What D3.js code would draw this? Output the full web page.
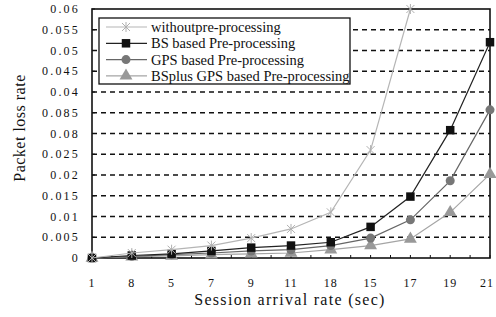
<!DOCTYPE html>
<html>
<head>
<meta charset="utf-8">
<script src="https://cdn.jsdelivr.net/npm/d3@7"></script>
<style>
  body { margin: 0; background: #fff; }
  svg { display: block; }
  text { font-family: "Liberation Serif", "DejaVu Serif", serif; fill: #111; }
</style>
</head>
<body>
<script>
// x tick labels as printed in the figure
const categories = ["1", "8", "5", "7", "9", "11", "18", "15", "17", "19", "21"];
const yTicks = [0, 0.005, 0.01, 0.015, 0.02, 0.025, 0.03, 0.035, 0.04, 0.045, 0.05, 0.055, 0.06];
const yTickLabels = ["0", "0.005", "0.01", "0.015", "0.02", "0.025", "0.08", "0.085", "0.04", "0.045", "0.05", "0.055", "0.06"];

const withoutPre = [0, 0.0012, 0.002, 0.003, 0.0048, 0.007, 0.011, 0.026, 0.06];
const bsBased = [0, 0.0006, 0.001, 0.0017, 0.0025, 0.003, 0.0038, 0.0075, 0.0148, 0.0308, 0.052];
const gpsBased = [0, 0.0004, 0.0008, 0.0012, 0.0017, 0.002, 0.003, 0.0048, 0.0092, 0.0186, 0.0357];
const bsPlusGps = [0, 0.0003, 0.0005, 0.0008, 0.001, 0.0012, 0.002, 0.003, 0.0046, 0.011, 0.0202];

const seriesNames = ["withoutpre-processing", "BS based Pre-processing", "GPS based Pre-processing", "BSplus GPS based Pre-processing"];

const W = 496, H = 317;
const margin = { left: 92, right: 6, top: 9, bottom: 59 };

const svg = d3.select("body").append("svg")
  .attr("width", W)
  .attr("height", H);

const x = d3.scalePoint()
  .domain(categories)
  .range([margin.left, W - margin.right]);

const y = d3.scaleLinear()
  .domain([0, 0.06])
  .range([H - margin.bottom, margin.top]);

// dashed grid
svg.append("g")
  .selectAll("line")
  .data(yTicks.slice(1, -1))
  .join("line")
  .attr("x1", margin.left)
  .attr("x2", W - margin.right)
  .attr("y1", d => y(d))
  .attr("y2", d => y(d))
  .attr("stroke", "#111")
  .attr("stroke-width", 1.3)
  .attr("stroke-dasharray", "5,4");

// plot frame
svg.append("rect")
  .attr("x", margin.left)
  .attr("y", margin.top)
  .attr("width", W - margin.right - margin.left)
  .attr("height", H - margin.bottom - margin.top)
  .attr("fill", "none")
  .attr("stroke", "#111")
  .attr("stroke-width", 1.6);

// y axis labels
svg.append("g")
  .selectAll("text")
  .data(yTicks)
  .join("text")
  .attr("x", 80)
  .attr("y", d => y(d))
  .attr("dy", "0.35em")
  .attr("text-anchor", "end")
  .attr("font-size", 12)
  .attr("letter-spacing", 2.2)
  .text((d, i) => yTickLabels[i]);

svg.append("g")
  .selectAll("line")
  .data(yTicks)
  .join("line")
  .attr("x1", margin.left)
  .attr("x2", margin.left + 3)
  .attr("y1", d => y(d))
  .attr("y2", d => y(d))
  .attr("stroke", "#111");

// x axis labels and ticks (ticks at every half step)
svg.append("g")
  .selectAll("text")
  .data(categories)
  .join("text")
  .attr("x", d => Math.min(x(d), W - 9))
  .attr("y", 287)
  .attr("text-anchor", "middle")
  .attr("font-size", 12)
  .attr("letter-spacing", 1)
  .text(d => d);

const halfTicks = d3.range(categories.length * 2 - 1).map(k => x(categories[0]) + k * x.step() / 2);
svg.append("g")
  .selectAll("line")
  .data(halfTicks)
  .join("line")
  .attr("x1", d => d)
  .attr("x2", d => d)
  .attr("y1", y(0))
  .attr("y2", y(0) - 3)
  .attr("stroke", "#111");

// axis titles
svg.append("text")
  .attr("transform", "translate(25,128) rotate(-90)")
  .attr("text-anchor", "middle")
  .attr("font-size", 16)
  .attr("letter-spacing", 0.5)
  .text("Packet loss rate");

svg.append("text")
  .attr("x", 290)
  .attr("y", 305)
  .attr("text-anchor", "middle")
  .attr("font-size", 16)
  .attr("letter-spacing", 1.3)
  .text("Session arrival rate (sec)");

const series = [
  { name: seriesNames[0], values: withoutPre, line: "#b5b5b5", fill: "#b0b0b0", marker: "x" },
  { name: seriesNames[1], values: bsBased, line: "#222", fill: "#111", marker: "square" },
  { name: seriesNames[2], values: gpsBased, line: "#666", fill: "#777", marker: "circle" },
  { name: seriesNames[3], values: bsPlusGps, line: "#a5a5a5", fill: "#999", marker: "triangle" }
];

const symbols = {
  square: d3.symbolSquare,
  circle: d3.symbolCircle,
  triangle: d3.symbolTriangle
};
const symbolSizes = { square: 72, circle: 64, triangle: 72 };

function drawMarker(g, s, cx, cy) {
  if (s.marker === "x") {
    g.append("path")
      .attr("d", "M-4,-4L4,4M-4,4L4,-4M0,-5L0,5")
      .attr("transform", "translate(" + cx + "," + cy + ")")
      .attr("stroke", s.fill)
      .attr("stroke-width", 1)
      .attr("fill", "none");
  } else {
    g.append("path")
      .attr("d", d3.symbol().type(symbols[s.marker]).size(symbolSizes[s.marker])())
      .attr("transform", "translate(" + cx + "," + cy + ")")
      .attr("fill", s.fill);
  }
}

const line = d3.line()
  .x((d, i) => x(categories[i]))
  .y(d => y(d));

const plot = svg.append("g");

series.slice().reverse().forEach(s => {
  plot.append("path")
    .datum(s.values)
    .attr("d", line)
    .attr("fill", "none")
    .attr("stroke", s.line)
    .attr("stroke-width", 1.2);
  s.values.forEach((v, i) => drawMarker(plot, s, x(categories[i]), y(v)));
});

// legend
const legend = svg.append("g");
legend.append("rect")
  .attr("x", 99)
  .attr("y", 18)
  .attr("width", 251)
  .attr("height", 66)
  .attr("fill", "#fff")
  .attr("stroke", "#111")
  .attr("stroke-width", 1.3);

series.forEach((s, i) => {
  const ly = 27 + i * 16.3;
  legend.append("line")
    .attr("x1", 106)
    .attr("x2", 147)
    .attr("y1", ly)
    .attr("y2", ly)
    .attr("stroke", s.line)
    .attr("stroke-width", 1.2);
  drawMarker(legend, s, 126, ly);
  legend.append("text")
    .attr("x", 151)
    .attr("y", ly)
    .attr("dy", "0.35em")
    .attr("font-size", 14.5)
    .text(s.name);
});
</script>
</body>
</html>
